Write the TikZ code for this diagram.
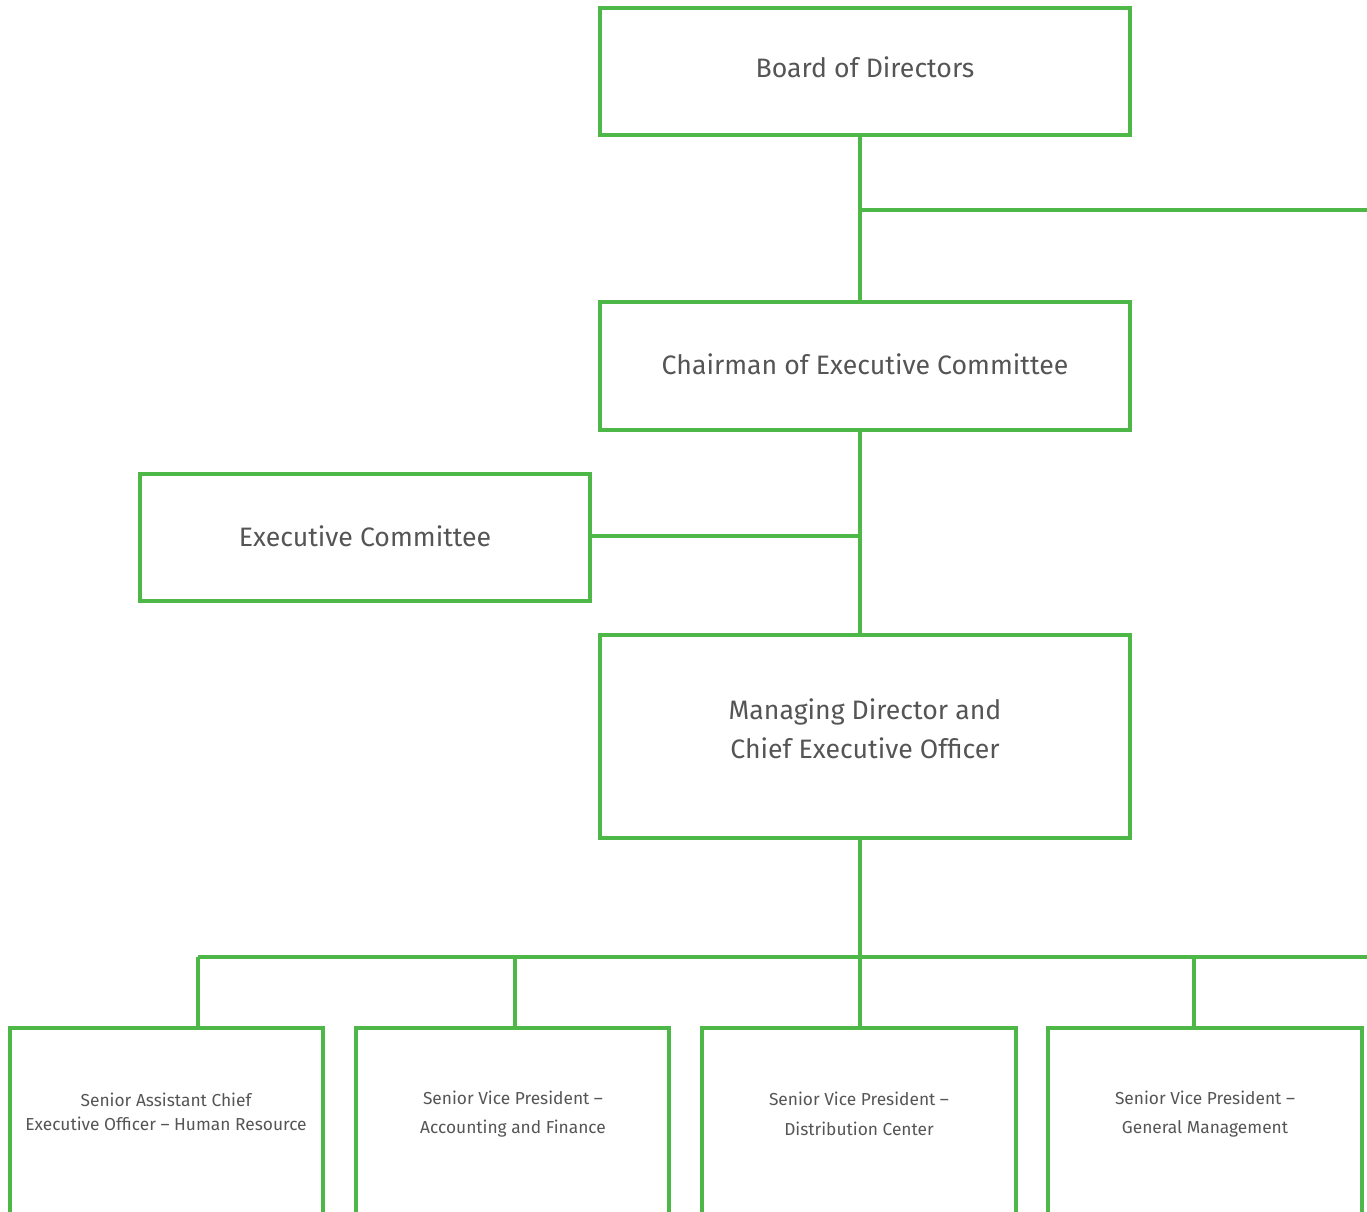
\documentclass[tikz,border=0pt]{standalone}
\usepackage{fontspec}
\setmainfont{Fira Sans}
\definecolor{lg}{HTML}{4DB848}
\definecolor{tg}{HTML}{555555}
\begin{document}
\begin{tikzpicture}[x=0.75pt,y=-0.75pt,
  box/.style={draw=lg,line width=2.4pt,rectangle},
  conn/.style={draw=lg,line width=2.4pt},
  big/.style={text=tg,font=\fontsize{20}{29}\selectfont,align=center},
  small/.style={text=tg,font=\fontsize{13}{22}\selectfont,align=center},
  smalltight/.style={text=tg,font=\fontsize{13}{18}\selectfont,align=center}]
\useasboundingbox (0,0) rectangle (1367,1212);
\clip (0,0) rectangle (1367,1212);
% boxes
\draw[box] (600,8) rectangle (1130,135);
\coordinate (bodb) at (860,135);
\node[big] (bod) at (865,67) {Board of Directors};
\draw[box] (600,302) rectangle (1130,430);
\coordinate (chT) at (860,302);
\coordinate (chB) at (860,430);
\node[big] (ch) at (865,364) {Chairman of Executive Committee};
\draw[box] (140,474) rectangle (590,601);
\coordinate (ecR) at (590,536);
\node[big] (ec) at (365,536) {Executive Committee};
\draw[box] (600,635) rectangle (1130,838);
\coordinate (mdT) at (860,635);
\coordinate (mdB) at (860,838);
\node[big] (md) at (865,729) {Managing Director and\\Chief Executive Officer};
\foreach \l/\r/\n in {10/323/a,356/669/b,702/1016/c,1048/1362/d}{
  \draw[box] (\l,1028) rectangle (\r,1230);
}
\node[smalltight] (sa) at (166,1112) {Senior Assistant Chief\\Executive Officer – Human Resource};
\node[small] (sb) at (513,1114) {Senior Vice President –\\Accounting and Finance};
\node[small] (sc) at (859,1114) {Senior Vice President –\\Distribution Center};
\node[small] (sd) at (1205,1114) {Senior Vice President –\\General Management};
% connectors
\coordinate (j1) at (860,210);
\coordinate (e1) at (1367,210);
\coordinate (j2) at (860,536);
\coordinate (j3) at (860,957);
\coordinate (hL) at (198,957);
\coordinate (hR) at (1367,957);
\draw[conn] (bodb) -- (chT);
\draw[conn] (j1) -- (e1);
\draw[conn] (chB) -- (mdT);
\draw[conn] (ecR) -- (j2);
\draw[conn] (mdB) -- (j3);
\draw[conn] (hL) -- (hR);
\draw[conn] (198,957) -- (198,1028);
\draw[conn] (515,957) -- (515,1028);
\draw[conn] (860,957) -- (860,1028);
\draw[conn] (1194,957) -- (1194,1028);
\end{tikzpicture}
\end{document}
